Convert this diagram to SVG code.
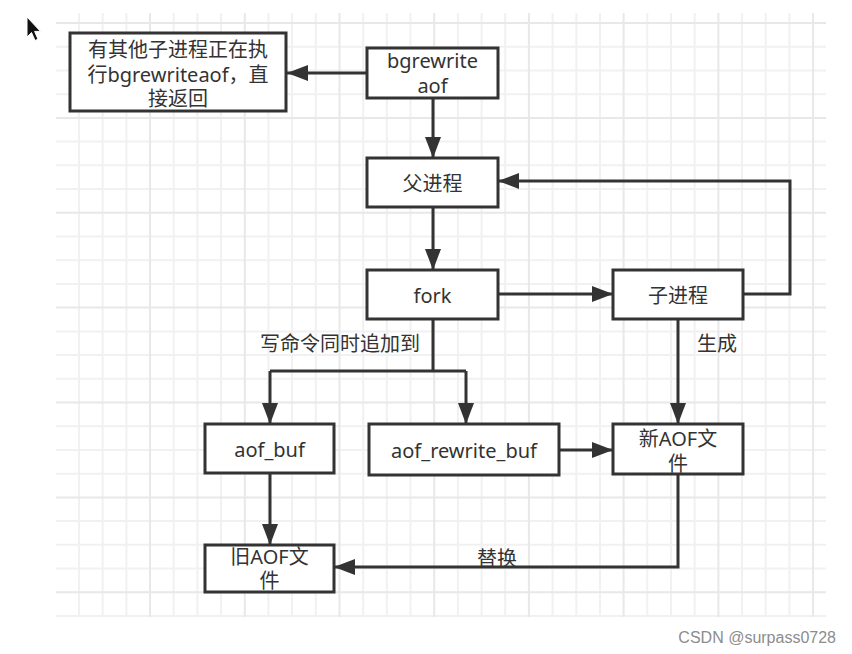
<svg xmlns="http://www.w3.org/2000/svg" width="852" height="654" viewBox="0 0 852 654">
<style>
.gmin{stroke:#f1f1f1;stroke-width:2;fill:none}
.gmaj{stroke:#e8e8e8;stroke-width:2;fill:none}
.box{fill:#fff;stroke:#333;stroke-width:3}
.t{font-family:"Noto Sans","Noto Sans CJK SC",sans-serif;font-size:20px;fill:#333;text-anchor:middle}
.lbl{font-family:"Noto Sans","Noto Sans CJK SC",sans-serif;font-size:20px;fill:#333}
.ln{fill:none;stroke:#333;stroke-width:3}
.arr{fill:none;stroke:#333;stroke-width:3;marker-end:url(#ah)}
</style>
<defs>
<marker id="ah" markerUnits="userSpaceOnUse" markerWidth="22" markerHeight="16" viewBox="0 0 22 16" refX="21" refY="8" orient="auto">
<path d="M0 0L21 8L0 16z" fill="#333"/>
</marker>
</defs>
<rect width="852" height="654" fill="#fff"/>
<g id="grid">
<path class="gmin" d="M79 13V617M102.7 13V617M126.4 13V617M173.7 13V617M197.4 13V617M221.1 13V617M268.4 13V617M292.1 13V617M315.8 13V617M363.2 13V617M386.8 13V617M410.5 13V617M457.9 13V617M481.6 13V617M505.2 13V617M552.6 13V617M576.3 13V617M600 13V617M647.3 13V617M671 13V617M694.7 13V617M742 13V617M765.7 13V617M789.4 13V617
M56 46.7H826M56 70.4H826M56 94.2H826M56 141.6H826M56 165.3H826M56 189H826M56 236.5H826M56 260.2H826M56 283.9H826M56 331.4H826M56 355.1H826M56 378.8H826M56 426.2H826M56 450H826M56 473.7H826M56 521.1H826M56 544.8H826M56 568.6H826M56 616H826"/>
<path class="gmaj" d="M150 13V617M244.8 13V617M339.5 13V617M434.2 13V617M528.9 13V617M623.6 13V617M718.4 13V617M813.1 13V617
M56 23H826M56 117.9H826M56 212.8H826M56 307.6H826M56 402.5H826M56 497.4H826M56 592.3H826"/>
</g>
<g id="connectors">
<path class="arr" d="M367 73H287"/>
<path class="arr" d="M433 98V158"/>
<path class="arr" d="M433 207V270"/>
<path class="arr" d="M498 294H613"/>
<path class="arr" d="M743 294H790V181H498"/>
<path class="ln" d="M433 319V371M270 371H466"/>
<path class="arr" d="M270 371V424"/>
<path class="arr" d="M466 371V424"/>
<path class="arr" d="M678 319V424"/>
<path class="arr" d="M559 450H613"/>
<path class="arr" d="M270 473V545"/>
<path class="arr" d="M678 474V567H334"/>
<text class="lbl" x="260" y="351">写命令同时追加到</text>
<text class="lbl" x="697" y="351">生成</text>
<text class="t" x="497" y="566">替换</text>
</g>
<g id="n1"><rect class="box" x="70" y="33" width="216" height="78"/><text class="t" x="178" y="57">有其他子进程正在执</text><text class="t" x="178" y="82">行bgrewriteaof，直</text><text class="t" x="178" y="106">接返回</text></g>
<g id="n2"><rect class="box" x="367" y="48" width="131" height="50"/><text class="t" x="432.5" y="68">bgrewrite</text><text class="t" x="432.5" y="93">aof</text></g>
<g id="n3"><rect class="box" x="367" y="158" width="131" height="49"/><text class="t" x="432.5" y="191">父进程</text></g>
<g id="n4"><rect class="box" x="367" y="270" width="131" height="49"/><text class="t" x="432.5" y="303">fork</text></g>
<g id="n5"><rect class="box" x="613" y="270" width="130" height="49"/><text class="t" x="678" y="303">子进程</text></g>
<g id="n6"><rect class="box" x="205" y="424" width="129" height="49"/><text class="t" x="269.5" y="457">aof_buf</text></g>
<g id="n7"><rect class="box" x="369" y="424" width="190" height="51"/><text class="t" x="464" y="458">aof_rewrite_buf</text></g>
<g id="n8"><rect class="box" x="613" y="424" width="130" height="50"/><text class="t" x="678" y="446">新AOF文</text><text class="t" x="678" y="471">件</text></g>
<g id="n9"><rect class="box" x="205" y="545" width="129" height="47"/><text class="t" x="269.5" y="564">旧AOF文</text><text class="t" x="269.5" y="588">件</text></g>
<g id="cursor"><path d="M27 17V37L31.5 32.5L35 40.5L38 39.2L34.6 31.4H40.5Z" fill="#111" stroke="#fff" stroke-width="1"/></g>
<text x="836" y="643" font-family="Liberation Sans,Arial,sans-serif" font-size="16" fill="#8c8c8c" text-anchor="end">CSDN @surpass0728</text>
</svg>
